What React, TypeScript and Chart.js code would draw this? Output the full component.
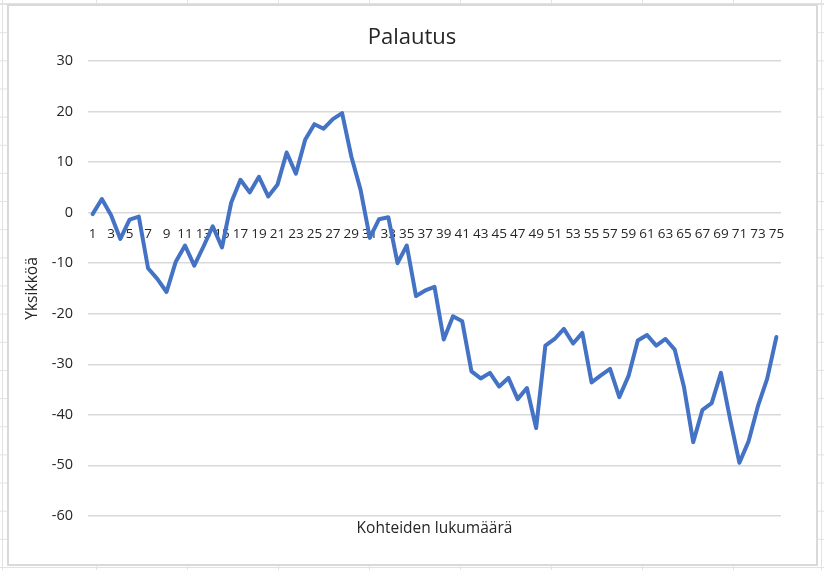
import React, { useEffect, useRef } from "react";
import { Chart, registerables } from "chart.js";

Chart.register(...registerables);

const categories: string[] = [
  "1", "2", "3", "4", "5", "6", "7", "8", "9", "10",
  "11", "12", "13", "14", "15", "16", "17", "18", "19", "20",
  "21", "22", "23", "24", "25", "26", "27", "28", "29", "30",
  "31", "32", "33", "34", "35", "36", "37", "38", "39", "40",
  "41", "42", "43", "44", "45", "46", "47", "48", "49", "50",
  "51", "52", "53", "54", "55", "56", "57", "58", "59", "60",
  "61", "62", "63", "64", "65", "66", "67", "68", "69", "70",
  "71", "72", "73", "74", "75",
];

const palautus: number[] = [
  -0.3, 2.7, -0.5, -5.2, -1.4, -0.8, -11.0, -13.1, -15.7, -9.7,
  -6.5, -10.5, -6.7, -2.7, -6.9, 2.0, 6.5, 4.0, 7.1, 3.2,
  5.5, 11.9, 7.7, 14.4, 17.5, 16.6, 18.5, 19.7, 11.1, 4.5,
  -5.0, -1.3, -0.9, -10.0, -6.5, -16.5, -15.4, -14.7, -25.1, -20.5,
  -21.5, -31.4, -32.8, -31.7, -34.4, -32.7, -36.9, -34.7, -42.6, -26.3,
  -25.0, -23.0, -25.9, -23.8, -33.6, -32.2, -30.9, -36.5, -32.3, -25.3,
  -24.2, -26.3, -25.0, -27.1, -34.5, -45.4, -39.0, -37.7, -31.7, -40.9,
  -49.5, -45.2, -38.3, -32.9, -24.6,
];

const yMin = -60;
const yMax = 30;
const yStep = 10;

const chartTitle = "Palautus";
const xTitle = "Kohteiden lukumäärä";
const yTitle = "Yksikköä";

const FONT = "'Open Sans', 'Noto Sans', sans-serif";
const TEXT = "#262626";

const sheetBackground = {
  id: "sheetBackground",
  beforeDraw(chart: any) {
    const ctx = chart.ctx as CanvasRenderingContext2D;
    const W = chart.width;
    const H = chart.height;
    ctx.save();
    ctx.fillStyle = "#ffffff";
    ctx.fillRect(0, 0, W, H);
    ctx.strokeStyle = "#e2e2e2";
    ctx.lineWidth = 1;
    const line = (x1: number, y1: number, x2: number, y2: number) => {
      ctx.beginPath();
      ctx.moveTo(x1, y1);
      ctx.lineTo(x2, y2);
      ctx.stroke();
    };
    for (let y = 4.5; y < H; y += 28.15) {
      line(0, y, 8, y);
      line(817, y, W, y);
    }
    for (let x = 96.5; x < W; x += 91) {
      line(x, 0, x, 5);
      line(x, 565, x, H);
    }
    line(2.5, 0, 2.5, H);
    line(821.5, 0, 821.5, H);
    line(0, 3.5, W, 3.5);
    line(0, 567.5, W, 567.5);
    ctx.strokeStyle = "#d9d9d9";
    ctx.lineWidth = 2;
    ctx.fillStyle = "#ffffff";
    ctx.fillRect(8, 5, 809, 560);
    ctx.strokeRect(8, 5, 809, 560);
    ctx.restore();
  },
};

export default function App() {
  const canvasRef = useRef<HTMLCanvasElement | null>(null);

  useEffect(() => {
    if (!canvasRef.current) return;
    const chart = new Chart(canvasRef.current, {
      type: "line",
      data: {
        labels: categories,
        datasets: [
          {
            label: chartTitle,
            data: palautus,
            borderColor: "#4472C4",
            backgroundColor: "#4472C4",
            borderWidth: 4,
            pointRadius: 0,
            tension: 0,
            fill: false,
            borderJoinStyle: "round",
            borderCapStyle: "round",
          },
        ],
      },
      options: {
        responsive: false,
        animation: false,
        devicePixelRatio: 1,
        layout: { padding: { top: 10, left: 8, right: 8, bottom: 10 } },
        plugins: {
          legend: { display: false },
          tooltip: { enabled: false },
          title: {
            display: true,
            text: chartTitle,
            color: TEXT,
            font: { family: FONT, size: 22, weight: "normal" },
            padding: { top: 14.8, bottom: 9.8 },
          },
          subtitle: {
            display: true,
            position: "bottom",
            fullSize: false,
            text: xTitle,
            color: TEXT,
            font: { family: FONT, size: 15.5, weight: "normal" },
            padding: { top: 3.5, bottom: 22 },
          },
        },
        scales: {
          x: {
            type: "category",
            position: { y: 0 },
            offset: true,
            grid: { display: false },
            border: { display: false },
            ticks: {
              autoSkip: false,
              maxRotation: 0,
              minRotation: 0,
              padding: 5,
              color: TEXT,
              font: { family: FONT, size: 13.5 },
              callback: (_v: any, i: number) => (i % 2 === 0 ? categories[i] : ""),
            },
          },
          y: {
            min: yMin,
            max: yMax,
            ticks: {
              stepSize: yStep,
              padding: 15,
              color: TEXT,
              font: { family: FONT, size: 14.5 },
            },
            grid: { color: "#d9d9d9", lineWidth: 1.5, drawTicks: false },
            border: { display: false },
            title: {
              display: true,
              text: yTitle,
              color: TEXT,
              font: { family: FONT, size: 15.6, weight: "normal" },
              padding: { top: 15.6, bottom: 0 },
            },
            afterFit: (s: any) => {
              s.width = 80;
            },
          },
          yRight: {
            position: "right",
            display: true,
            ticks: { display: false },
            grid: { display: false },
            border: { display: false },
            afterFit: (s: any) => {
              s.width = 35;
            },
          },
        },
      } as any,
      plugins: [sheetBackground],
    });
    return () => chart.destroy();
  }, []);

  return (
    <div style={{ position: "absolute", left: 0, top: 0, width: 824, height: 570 }}>
      <canvas ref={canvasRef} width={824} height={570} />
    </div>
  );
}
